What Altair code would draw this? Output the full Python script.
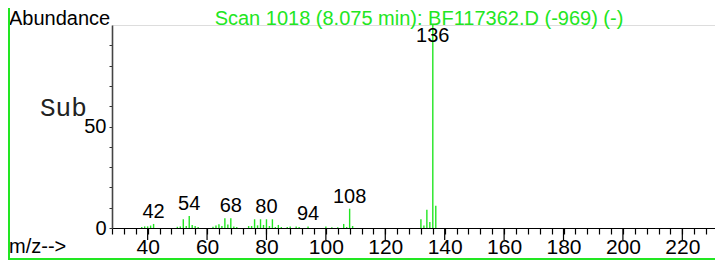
import altair as alt
import pandas as pd

# m/z values and relative abundances (%)
mz = [38, 39, 40, 41, 42, 50, 51, 52, 53, 54, 55, 56, 57, 62, 63, 64, 65, 66, 67, 68,
      69, 70, 74, 75, 76, 77, 78, 79, 80, 81, 82, 83, 84, 85, 87, 88, 90, 91, 94,
      100, 102, 104, 106, 107, 108, 109, 132, 133, 134, 135, 136, 137]
abundance = [0.5, 0.8, 0.8, 1.2, 2.0, 0.6, 0.8, 4.3, 1.0, 5.9, 1.5, 1.0, 0.5, 0.6, 1.2, 1.8, 1.0, 4.8, 1.7, 4.8,
             0.8, 0.5, 1.0, 1.0, 4.3, 1.3, 4.3, 1.5, 4.3, 1.0, 4.3, 0.5, 1.5, 0.5, 0.5, 0.8, 0.8, 0.5, 0.8,
             0.7, 0.4, 0.4, 2.0, 0.5, 9.5, 1.0, 4.3, 1.2, 9.0, 2.9, 100.0, 11.0]
label_mz = [42, 54, 68, 80, 94, 108, 136]
major_ticks = [40, 60, 80, 100, 120, 140, 160, 180, 200, 220]
minor_ticks = list(range(28, 231, 4))
y_ticks = [0, 10, 20, 30, 40, 50, 60, 70, 80, 90]

title_text = "Scan 1018 (8.075 min): BF117362.D (-969) (-)"

df = pd.DataFrame({"mz": mz, "ab": abundance})
df["ly"] = df["ab"].clip(upper=88.5)
df["lab"] = df["mz"].isin(label_mz)
majors = pd.DataFrame({"mz": major_ticks})

GREEN = "#22e622"
FONT = "Liberation Sans"
W, H = 603, 203

xscale = alt.Scale(domain=[28, 231.0], nice=False, zero=False)
yscale = alt.Scale(domain=[0, 100], nice=False)

xaxis = alt.Axis(values=minor_ticks, tickSize=6, tickColor="black", domainColor="black",
                 labelExpr="datum.value % 20 == 0 ? '' + datum.value : ''",
                 labelFont=FONT, labelFontSize=21, labelColor="black", labelPadding=19,
                 labelBaseline="alphabetic", labelOverlap=False, labelFlush=False,
                 labelBound=False, grid=False, title=None, domainWidth=1.2, tickWidth=1.2)
yaxis = alt.Axis(values=y_ticks, tickSize=3, tickColor="#333", domainColor="#444",
                 labelExpr="datum.value == 0 || datum.value == 50 ? '' + datum.value : ''",
                 labelFont=FONT, labelFontSize=20, labelColor="black", labelPadding=3,
                 labelOverlap=False, labelFlush=False, labelBound=False, grid=False, title=None,
                 domainWidth=1.6)

X = alt.X("mz:Q", scale=xscale, axis=xaxis)

peaks = alt.Chart(df).mark_rule(color=GREEN, strokeWidth=1.4).encode(
    x=X,
    y=alt.Y("ab:Q", scale=yscale, axis=yaxis),
    y2=alt.datum(0),
)

labels = alt.Chart(df).transform_filter("datum.lab").mark_text(
    font=FONT, fontSize=20, color="black", baseline="alphabetic", dy=-6).encode(
    x=X,
    y=alt.Y("ly:Q", scale=yscale, axis=yaxis),
    text="mz:Q",
)

major = alt.Chart(majors).mark_rule(color="black", strokeWidth=1.2).encode(
    x=X,
    y=alt.value(H), y2=alt.value(H + 12),
)

abund = alt.Chart(pd.DataFrame({"t": ["Abundance"]})).mark_text(
    font=FONT, fontSize=20, color="black", align="left", baseline="alphabetic").encode(
    x=alt.value(-103), y=alt.value(0), text="t:N")

ttl = alt.Chart(pd.DataFrame({"t": [title_text]})).mark_text(
    font=FONT, fontSize=20, color=GREEN, align="center", baseline="alphabetic").encode(
    x=alt.value(307), y=alt.value(0), text="t:N")

sub = alt.Chart(pd.DataFrame({"t": ["Sub"]})).mark_text(
    font="Liberation Mono", fontSize=26, color="#222", align="left", baseline="alphabetic").encode(
    x=alt.value(-72), y=alt.value(91), text="t:N")

mzlab = alt.Chart(pd.DataFrame({"t": ["m/z-->"]})).mark_text(
    font=FONT, fontSize=20, color="black", align="left", baseline="alphabetic").encode(
    x=alt.value(-103), y=alt.value(228), text="t:N")

frame_left = alt.Chart(pd.DataFrame({"a": [0]})).mark_rule(color=GREEN, strokeWidth=2).encode(
    x=alt.value(-103), y=alt.value(-17), y2=alt.value(235))
frame_bottom = alt.Chart(pd.DataFrame({"a": [0]})).mark_rule(color=GREEN, strokeWidth=2).encode(
    x=alt.value(-104), x2=alt.value(W), y=alt.value(234))

chart = alt.layer(peaks, labels, major, abund, ttl, sub, mzlab, frame_left, frame_bottom).properties(
    width=W, height=H,
    autosize=alt.AutoSizeParams(type="none"),
    padding={"left": 104, "top": 17, "right": 0, "bottom": 32},
).configure_view(stroke=None).configure(background="white")

chart.save("out.html", embed_options={"renderer": "svg", "actions": False})
